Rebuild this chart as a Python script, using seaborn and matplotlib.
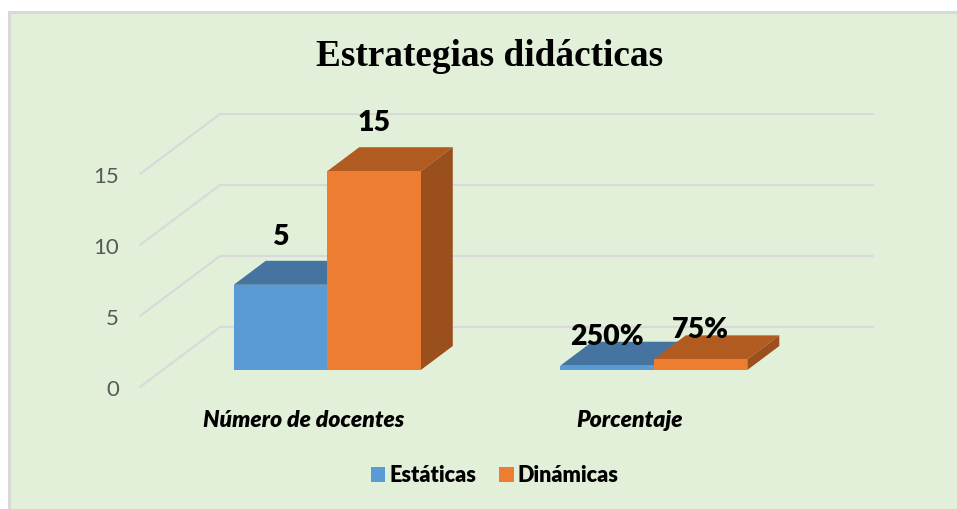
import pandas as pd
import matplotlib.pyplot as plt
from matplotlib.patches import Polygon, Rectangle
import seaborn as sns

# Data (drawn heights differ from the printed labels)
medidas = ['Número de docentes', 'Porcentaje']
estaticas = [6, 0.3]
dinamicas = [14, 0.75]
estaticas_labels = ['5', '250%']
dinamicas_labels = ['15', '75%']
y_ticks = [0, 5, 10, 15]

W, H = 957, 509
PX_X = 326.5   # pixels per category
PX_Y = 14.2    # pixels per y unit
BLUE, BLUE_TOP = '#5B9BD5', '#4674A0'
ORANGE, ORANGE_TOP, ORANGE_SIDE = '#ED7D31', '#B25B21', '#9A4F1C'
GRID = '#D9D9D9'
BG = '#E2EFD9'

sns.set_theme(style='white')
plt.rcParams['font.family'] = ['Lato', 'DejaVu Sans']

df = pd.DataFrame({
    'Medida': medidas * 2,
    'Valor': estaticas + dinamicas,
    'Tipo': ['Estáticas'] * 2 + ['Dinámicas'] * 2,
})

fig = plt.figure(figsize=(W / 100, H / 100), dpi=100, facecolor='white')
# chart area with its grey border, white margin on top and left
fig.add_artist(Rectangle((9 / W, -0.02), 1, (H - 12) / H + 0.02, transform=fig.transFigure,
                         facecolor=BG, edgecolor=GRID, linewidth=2.2, zorder=-1))


def axes_at(left, base, top):
    # axes from pixel positions, y scale is the same for all
    a = fig.add_axes([left / W, (H - base) / H, 653 / W, (base - top) / H])
    a.patch.set_alpha(0)
    a.set_ylim(0, (base - top) / PX_Y)
    return a


# --- bars ---
ax = axes_at(164, 370, 100)
sns.barplot(data=df, x='Medida', y='Valor', hue='Tipo', palette=[BLUE, ORANGE],
            width=0.573, gap=0, saturation=1, linewidth=0, ax=ax)
ax.set_xlim(-0.5, 1.5)
ax.set_ylim(0, 270 / PX_Y)
ax.patch.set_alpha(0)
ax.set_xlabel('')
ax.set_ylabel('')
ax.set_xticks([])
ax.set_yticks([])
sns.despine(ax=ax, left=True, bottom=True)

# --- grid on the back wall and floor ---
wall_dx, wall_dy = 56 / PX_X, 43 / PX_Y
front_dx, front_dy = -24 / PX_X, -17 / PX_Y
for v in y_ticks:
    ax.plot([-0.5 + front_dx, -0.5 + wall_dx, 1.5 + wall_dx],
            [v + front_dy, v + wall_dy, v + wall_dy],
            color=GRID, lw=1.5, zorder=1, clip_on=False)

# --- 3D faces built from the bars ---
depth_x, depth_y = 32 / PX_X, 24 / PX_Y
styles = [(BLUE_TOP, BLUE_TOP, 2, 3), (ORANGE_TOP, ORANGE_SIDE, 4, 5)]
all_labels = [estaticas_labels, dinamicas_labels]
for container, (top_c, side_c, z, z_front), labels in zip(ax.containers, styles, all_labels):
    for bar, text in zip(container, labels):
        bar.set_zorder(z_front)
        x0, w, h = bar.get_x(), bar.get_width(), bar.get_height()
        ax.add_patch(Polygon([(x0, h), (x0 + w, h), (x0 + w + depth_x, h + depth_y),
                              (x0 + depth_x, h + depth_y)],
                             facecolor=top_c, edgecolor='none', zorder=z, clip_on=False))
        ax.add_patch(Polygon([(x0 + w, 0), (x0 + w + depth_x, depth_y),
                              (x0 + w + depth_x, h + depth_y), (x0 + w, h)],
                             facecolor=side_c, edgecolor='none', zorder=z, clip_on=False))
        ax.annotate(text, (x0 + w / 2, h), xytext=(0, 34.5 if h > 1 else 21),
                    textcoords='offset points', ha='center', va='center',
                    fontsize=20.5, fontweight='heavy', color='black', zorder=8,
                    annotation_clip=False)

# --- axis labels sit at the front edge of the floor ---
ax_front = axes_at(140, 388, 118)
ax_front.set_xlim(-0.5, 1.5)
ax_front.set_xticks([0, 1])
ax_front.set_xticklabels(medidas, fontsize=16.5, fontweight='heavy', fontstyle='italic',
                         color='black')
ax_front.set_yticks(y_ticks)
ax_front.tick_params(axis='y', length=0, pad=15, labelsize=16, labelcolor='#595959')
ax_front.tick_params(axis='x', length=0, pad=15.5)
sns.despine(ax=ax_front, left=True, bottom=True)

# --- legend ---
handles, leg_labels = ax.get_legend_handles_labels()
ax.legend(handles, leg_labels, loc='center', bbox_to_anchor=(494.5 / W, (H - 476) / H),
          bbox_transform=fig.transFigure, ncol=2, frameon=False, labelcolor='black',
          prop={'weight': 'heavy', 'size': 15.6}, handlelength=0.68, handleheight=0.68,
          handletextpad=0.18, columnspacing=1.05)

fig.text(490 / W, (H - 56) / H, 'Estrategias didácticas', ha='center', va='center',
         fontsize=26.8, fontweight='bold', family='Liberation Serif', color='black')

fig.savefig('out.png', dpi=100)
plt.close(fig)
